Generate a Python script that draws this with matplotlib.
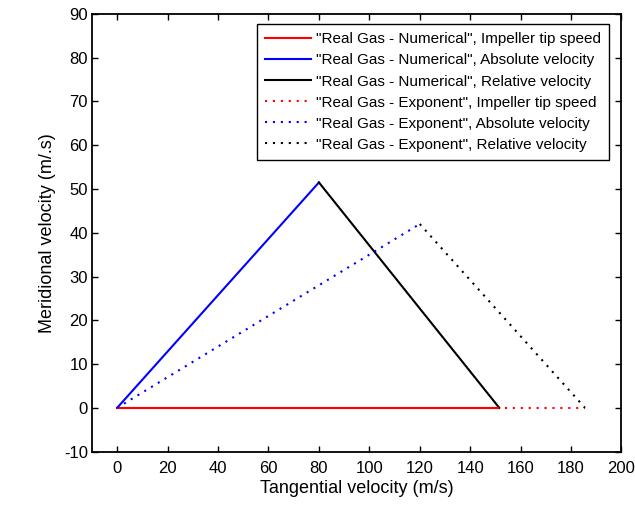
import matplotlib
matplotlib.use("Agg")
import matplotlib.pyplot as plt

plt.rcParams['font.family'] = ['Liberation Sans', 'DejaVu Sans']
plt.rcParams['axes.unicode_minus'] = False

# Velocity triangles (tangential, meridional) in m/s
tip_num_x = [0, 151.5]
tip_num_y = [0, 0]
abs_num_x = [0, 80]
abs_num_y = [0, 51.5]
rel_num_x = [80, 151.5]
rel_num_y = [51.5, 0]

tip_exp_x = [0, 185.5]
tip_exp_y = [0, 0]
abs_exp_x = [0, 120]
abs_exp_y = [0, 42]
rel_exp_x = [120, 185.5]
rel_exp_y = [42, 0]

labels = [
    '"Real Gas - Numerical", Impeller tip speed',
    '"Real Gas - Numerical", Absolute velocity',
    '"Real Gas - Numerical", Relative velocity',
    '"Real Gas - Exponent", Impeller tip speed',
    '"Real Gas - Exponent", Absolute velocity',
    '"Real Gas - Exponent", Relative velocity',
]
x_ticks = list(range(0, 201, 20))
y_ticks = list(range(-10, 91, 10))

fig = plt.figure(figsize=(6.35, 5.05), dpi=100)
ax = fig.add_axes([0.1449, 0.1059, 0.8338, 0.8664])

lw = 1.5
dot = (0, (1, 2.8))
ax.plot(tip_num_x, tip_num_y, color='#ff0000', lw=lw, label=labels[0])
ax.plot(abs_num_x, abs_num_y, color='#0000ff', lw=lw, label=labels[1])
ax.plot(rel_num_x, rel_num_y, color='#000000', lw=lw, label=labels[2])
ax.plot(tip_exp_x, tip_exp_y, color='#ff0000', lw=lw, ls=dot, label=labels[3])
ax.plot(abs_exp_x, abs_exp_y, color='#0000ff', lw=lw, ls=dot, label=labels[4])
ax.plot(rel_exp_x, rel_exp_y, color='#000000', lw=lw, ls=dot, label=labels[5])

ax.set_xlim(-10, 200)
ax.set_ylim(-10, 90)
ax.set_xticks(x_ticks)
ax.set_yticks(y_ticks)
ax.tick_params(direction='in', top=True, right=True, length=4, width=1,
               labelsize=12, colors='black')
ax.tick_params(axis='x', pad=7)
ax.tick_params(axis='y', pad=3)
for s in ax.spines.values():
    s.set_linewidth(1.3)
    s.set_color('black')

ax.set_xlabel('Tangential velocity (m/s)', fontsize=13, labelpad=3)
ax.set_ylabel('Meridional velocity (m/.s)', fontsize=13, labelpad=6)

leg = ax.legend(loc='upper right', bbox_to_anchor=(0.9764, 0.977),
                borderaxespad=0, fontsize=11, frameon=True, fancybox=False,
                edgecolor='black', framealpha=1, handlelength=3.0,
                handletextpad=0.3, borderpad=0.55, labelspacing=0.46)
leg.get_frame().set_linewidth(1.0)

fig.savefig('out.png', dpi=100)
